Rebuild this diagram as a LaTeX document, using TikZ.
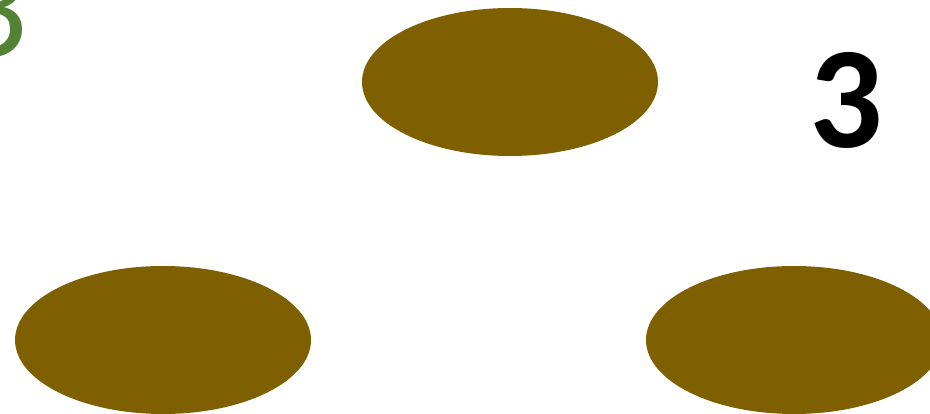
\documentclass[tikz,border=0pt]{standalone}
\usepackage{fontspec}
\setmainfont{Carlito}
\newfontfamily\numfont{Carlito Bold}
\usetikzlibrary{shapes.geometric}
\definecolor{brn}{HTML}{7F6000}
\definecolor{grn}{HTML}{548235}
\begin{document}
\begin{tikzpicture}[
  x=1pt,y=-1pt,
  blob/.style={ellipse, fill=brn, inner sep=0pt, minimum width=296pt, minimum height=148pt},
  num/.style={inner sep=0pt, font=\numfont\fontsize{145}{145}\selectfont},
  tag/.style={inner sep=0pt, font=\fontsize{145}{145}\selectfont},
]
\useasboundingbox (0,0) rectangle (930,414);
\clip (0,0) rectangle (930,414);
% three patches
\node[blob] (top) at (510,82) {};
\node[blob] (left) at (163,340) {};
\node[blob] (right) at (794,340) {};
% numbers
\node[tag, text=grn, anchor=base east] (lbl) at (28,57) {3};
\node[num, anchor=base west] (cnt) at (809,148) {3};
\end{tikzpicture}
\end{document}
